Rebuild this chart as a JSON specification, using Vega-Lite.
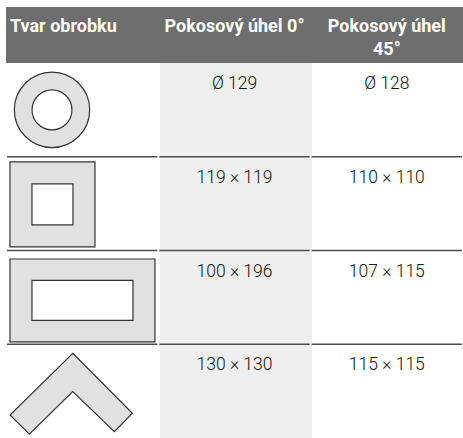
{
  "$schema": "https://vega.github.io/schema/vega-lite/v6.json",
  "padding": {"left": 6, "top": 7, "right": 0, "bottom": 0},
  "background": "white",
  "config": {"view": {"stroke": null}, "axis": {"disable": true}},
  "spacing": 0,
  "datasets": {
    "header": [
      {"row": "0", "col": "Tvar obrobku", "label": "Tvar obrobku"},
      {"row": "0", "col": "Pokosový úhel 0°", "label": "Pokosový úhel 0°"},
      {"row": "0", "col": "Pokosový úhel 45°", "label": "Pokosový úhel\n45°"}
    ],
    "cells": [
      {"row": "1", "col": "Pokosový úhel 0°", "value": "Ø 129"},
      {"row": "1", "col": "Pokosový úhel 45°", "value": "Ø 128"},
      {"row": "2", "col": "Pokosový úhel 0°", "value": "119 × 119"},
      {"row": "2", "col": "Pokosový úhel 45°", "value": "110 × 110"},
      {"row": "3", "col": "Pokosový úhel 0°", "value": "100 × 196"},
      {"row": "3", "col": "Pokosový úhel 45°", "value": "107 × 115"},
      {"row": "4", "col": "Pokosový úhel 0°", "value": "130 × 130"},
      {"row": "4", "col": "Pokosový úhel 45°", "value": "115 × 115"}
    ],
    "shapes": [
      {"row": "1", "col": "Tvar obrobku", "shape": "kruh"},
      {"row": "2", "col": "Tvar obrobku", "shape": "čtverec"},
      {"row": "3", "col": "Tvar obrobku", "shape": "obdélník"},
      {"row": "4", "col": "Tvar obrobku", "shape": "úhelník"}
    ],
    "grid": [
      {"row": "2", "col": "Tvar obrobku"},
      {"row": "2", "col": "Pokosový úhel 0°"},
      {"row": "2", "col": "Pokosový úhel 45°"},
      {"row": "3", "col": "Tvar obrobku"},
      {"row": "3", "col": "Pokosový úhel 0°"},
      {"row": "3", "col": "Pokosový úhel 45°"},
      {"row": "4", "col": "Tvar obrobku"},
      {"row": "4", "col": "Pokosový úhel 0°"},
      {"row": "4", "col": "Pokosový úhel 45°"}
    ]
  },
  "vconcat": [
    {
      "width": 457,
      "height": 56,
      "view": {"fill": "#6e6e6e", "stroke": null},
      "data": {"name": "header"},
      "layer": [
        {
          "transform": [{"filter": "datum.col === 'Tvar obrobku'"}],
          "mark": {"type": "text", "align": "left", "baseline": "alphabetic", "dx": 4, "dy": 25, "font": "Roboto", "fontWeight": "bold", "fontSize": 18, "color": "white"},
          "encoding": {
            "x": {"field": "col", "type": "nominal", "bandPosition": 0, "scale": {"type": "band", "domain": ["Tvar obrobku", "Pokosový úhel 0°", "Pokosový úhel 45°"], "paddingInner": 0, "paddingOuter": 0}, "axis": null},
            "y": {"field": "row", "type": "ordinal", "bandPosition": 0, "scale": {"type": "band", "padding": 0}, "axis": null},
            "text": {"field": "label"}
          }
        },
        {
          "transform": [{"filter": "datum.col !== 'Tvar obrobku'"}],
          "mark": {"type": "text", "align": "center", "baseline": "alphabetic", "dy": 25, "lineBreak": "\n", "lineHeight": 23, "font": "Roboto", "fontWeight": "bold", "fontSize": 18, "color": "white"},
          "encoding": {
            "x": {"field": "col", "type": "nominal", "bandPosition": 0.5, "scale": {"type": "band", "domain": ["Tvar obrobku", "Pokosový úhel 0°", "Pokosový úhel 45°"], "paddingInner": 0, "paddingOuter": 0}, "axis": null},
            "y": {"field": "row", "type": "ordinal", "bandPosition": 0, "scale": {"type": "band", "padding": 0}, "axis": null},
            "text": {"field": "label"}
          }
        }
      ]
    },
    {
      "width": 457,
      "height": 375,
      "encoding": {
        "x": {"field": "col", "type": "nominal", "scale": {"type": "band", "domain": ["Tvar obrobku", "Pokosový úhel 0°", "Pokosový úhel 45°"], "paddingInner": 0, "paddingOuter": 0}, "axis": null},
        "y": {"field": "row", "type": "ordinal", "scale": {"type": "band", "domain": ["1", "2", "3", "4"], "paddingInner": 0, "paddingOuter": 0}, "axis": null}
      },
      "layer": [
        {
          "data": {"name": "cells"},
          "transform": [{"filter": "datum.col === 'Pokosový úhel 0°'"}],
          "mark": {"type": "rect", "color": "#efefef", "x2Offset": 1.5, "xOffset": 1.5}
        },
        {
          "data": {"name": "grid"},
          "mark": {"type": "rule", "color": "#4d4d4d", "strokeWidth": 1.3, "xOffset": 1, "x2Offset": -1},
          "encoding": {
            "x": {"field": "col", "type": "nominal", "bandPosition": 0},
            "x2": {"field": "col", "bandPosition": 1},
            "y": {"field": "row", "type": "ordinal", "bandPosition": 0}
          }
        },
        {
          "data": {"name": "cells"},
          "mark": {"type": "text", "align": "center", "baseline": "alphabetic", "dy": 26, "font": "Roboto", "fontWeight": 300, "fontSize": 17.5, "color": "#141414"},
          "encoding": {
            "y": {"field": "row", "type": "ordinal", "bandPosition": 0},
            "text": {"field": "value"}
          }
        },
        {
          "data": {"name": "shapes"},
          "transform": [{"filter": "datum.shape === 'kruh'"}],
          "layer": [
            {"mark": {"type": "point", "shape": "circle", "size": 5674, "filled": true, "fill": "#e1e1e1", "stroke": "#333333", "strokeWidth": 1.2, "opacity": 1}},
            {"mark": {"type": "point", "shape": "circle", "size": 1590, "filled": true, "fill": "white", "stroke": "#333333", "strokeWidth": 1.2, "opacity": 1}}
          ],
          "encoding": {
            "x": {"field": "col", "type": "nominal", "bandPosition": 0.302},
            "y": {"field": "row", "type": "ordinal", "bandPosition": 0.5}
          }
        },
        {
          "data": {"name": "shapes"},
          "transform": [{"filter": "datum.shape === 'čtverec'"}],
          "layer": [
            {"mark": {"type": "point", "shape": "square", "size": 7225, "filled": true, "fill": "#e1e1e1", "stroke": "#333333", "strokeWidth": 1.2, "opacity": 1}},
            {"mark": {"type": "point", "shape": "square", "size": 1681, "filled": true, "fill": "white", "stroke": "#333333", "strokeWidth": 1.2, "opacity": 1}}
          ],
          "encoding": {
            "x": {"field": "col", "type": "nominal", "bandPosition": 0.305},
            "y": {"field": "row", "type": "ordinal", "bandPosition": 0.509}
          }
        },
        {
          "data": {"name": "shapes"},
          "transform": [{"filter": "datum.shape === 'obdélník'"}],
          "layer": [
            {"mark": {"type": "point", "shape": "M-1,-0.572H1V0.572H-1Z", "size": 21025, "filled": true, "fill": "#e1e1e1", "stroke": "#333333", "strokeWidth": 1.2, "opacity": 1}},
            {"mark": {"type": "point", "shape": "M-1,-0.396H1V0.396H-1Z", "size": 10201, "filled": true, "fill": "white", "stroke": "#333333", "strokeWidth": 1.2, "opacity": 1}}
          ],
          "encoding": {
            "x": {"field": "col", "type": "nominal", "bandPosition": 0.502},
            "y": {"field": "row", "type": "ordinal", "bandPosition": 0.533}
          }
        },
        {
          "data": {"name": "shapes"},
          "transform": [{"filter": "datum.shape === 'úhelník'"}],
          "mark": {"type": "point", "shape": "M0.025,-0.662L1,0.319L0.706,0.62L0.025,-0.034L-0.684,0.662L-1,0.347Z", "size": 14957, "filled": true, "fill": "#e1e1e1", "stroke": "#333333", "strokeWidth": 1.2, "opacity": 1},
          "encoding": {
            "x": {"field": "col", "type": "nominal", "bandPosition": 0.428},
            "y": {"field": "row", "type": "ordinal", "bandPosition": 0.528}
          }
        }
      ]
    }
  ]
}
